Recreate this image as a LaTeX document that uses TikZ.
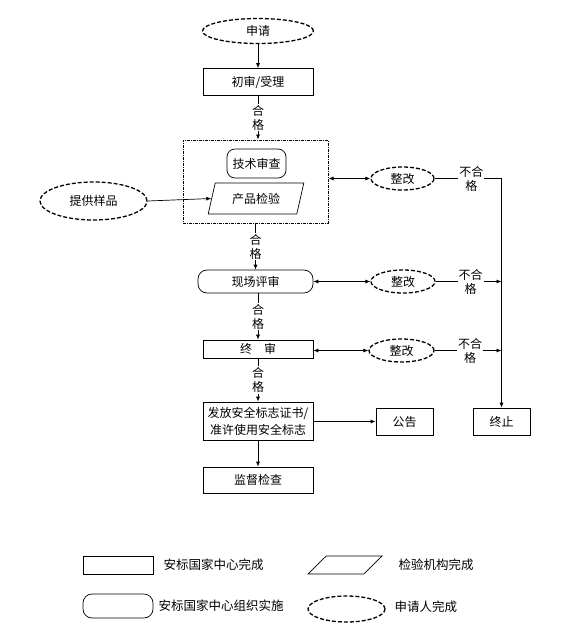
\documentclass[tikz,border=0pt]{standalone}
\usepackage{fontspec}
\newfontfamily\cjk{Noto Sans CJK SC}
\usetikzlibrary{arrows.meta,shapes.geometric}
\tikzset{
  txt/.style={font=\cjk\fontsize{12}{14}\selectfont, text=black},
  box/.style={txt, draw, line width=0.7pt, minimum width=110pt, inner sep=1pt},
  rbox/.style={box, rounded corners=9pt},
  para/.style={txt, draw, line width=0.7pt, trapezium, trapezium left angle=72, trapezium right angle=108, trapezium stretches=true, inner sep=1pt},
  app/.style={txt, draw, ellipse, line width=1.3pt, dash pattern=on 4pt off 2pt, inner sep=0pt},
  grpbox/.style={draw, line width=1pt, dash pattern=on 3pt off 1pt on 1pt off 1pt},
  lab/.style={txt, fill=white, inner sep=1pt, align=center},
  legtxt/.style={font=\cjk\fontsize{12.5}{14}\selectfont, text=black, anchor=west},
  conn/.style={line width=0.7pt},
  arr/.style={conn, -{Latex[length=5pt,width=4pt]}},
  darr/.style={conn, {Latex[length=5pt,width=4pt]}-{Latex[length=5pt,width=4pt]}},
}
\begin{document}
\begin{tikzpicture}[x=1pt,y=-1pt]
\useasboundingbox[fill=white] (0,0) rectangle (561,634);

% main nodes
\node[app, minimum width=111pt, minimum height=25pt] (sq) at (258,31) {申请};
\node[box, minimum height=27pt] (cs) at (258,82) {初审/受理};
\node[grpbox, minimum width=145pt, minimum height=83pt] (grp) at (255.5,181.5) {};
\node[rbox, minimum width=59pt, minimum height=29pt, rounded corners=8pt] (js) at (256.5,163.5) {技术审查};
\node[para, minimum width=96pt, minimum height=31pt] (cj) at (256,198.5) {产品检验};
\node[app, minimum width=107pt, minimum height=38pt] (tg) at (93.5,201) {提供样品};
\node[app, minimum width=63pt, minimum height=23pt] (zg1) at (402.5,178.5) {整改};
\node[rbox, minimum width=115pt, minimum height=23pt] (xc) at (255.5,281.5) {现场评审};
\node[app, minimum width=64pt, minimum height=23pt] (zg2) at (403,281.5) {整改};
\node[box, minimum height=18pt] (zs) at (258,349) {终　审};
\node[app, minimum width=65pt, minimum height=23pt] (zg3) at (401.5,350.5) {整改};
\node[box, minimum height=38pt, align=center, font=\cjk\fontsize{12}{17}\selectfont] (ff) at (258,421) {发放安全标志证书/\\准许使用安全标志};
\node[box, minimum width=57pt, minimum height=27pt] (gg) at (404.5,421.5) {公告};
\node[box, minimum width=57pt, minimum height=27pt] (zz) at (501.5,421.5) {终止};
\node[box, minimum height=26pt] (jd) at (258,480) {监督检查};

% connectors
\draw[arr] (sq) -- (cs);
\draw[arr] (cs.south) -- node[lab] {合\\格} (cs.south |- grp.north);
\draw[arr] (tg.east) -- (cj.west);
\draw[darr] (zg1.west -| grp.east) -- (zg1.west);
\draw[arr] (zg1.east) -- node[lab, pos=0.55] {不合\\格} (zg1 -| zz) -- (zz.north);
\draw[arr] (grp.south) -- node[lab] {合\\格} (xc.north);
\draw[darr] (xc.east) -- (zg2.west);
\draw[arr] (zg2.east) -- node[lab, pos=0.53] {不合\\格} (zg2 -| zz);
\draw[arr] (xc.south -| zs) -- node[lab] {合\\格} (zs.north);
\draw[darr] (zg3.west -| zs.east) -- (zg3.west);
\draw[arr] (zg3.east) -- node[lab, pos=0.53] {不合\\格} (zg3 -| zz);
\draw[arr] (zs.south) -- node[lab] {合\\格} (ff.north);
\draw[arr] (ff.east |- gg) -- (gg.west);
\draw[arr] (ff) -- (jd);

% legend
\node[box, minimum width=70pt, minimum height=18pt] (l1) at (118,565) {};
\node[legtxt] (t1) at (160,565) {安标国家中心完成};
\node[para, minimum width=74pt, minimum height=18pt, trapezium left angle=64, trapezium right angle=116] (l2) at (345,565) {};
\node[legtxt] (t2) at (395,565) {检验机构完成};
\node[rbox, minimum width=70pt, minimum height=24pt] (l3) at (118,606) {};
\node[legtxt] (t3) at (155,606) {安标国家中心组织实施};
\node[app, minimum width=77pt, minimum height=26pt] (l4) at (346.5,609) {};
\node[legtxt] (t4) at (391,607) {申请人完成};
\end{tikzpicture}
\end{document}
